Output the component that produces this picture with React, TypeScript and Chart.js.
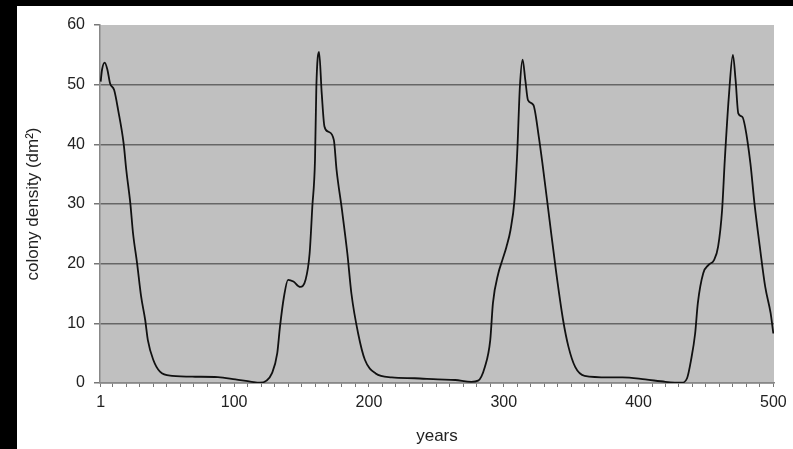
import React, { useEffect, useRef } from "react";
import { Chart, registerables } from "chart.js";

Chart.register(...registerables);

const years = [
  1, 2, 4, 6, 8, 11, 14, 18, 20, 23, 25, 28, 31, 34, 36, 40, 45, 54, 71, 88,
  101, 113, 119, 124, 128, 132, 134, 137, 140, 144, 149, 153, 156, 158, 160, 161,
  163, 165, 167, 170, 174, 176, 180, 184, 187, 192, 197, 205, 217, 234, 251, 264,
  276, 281, 286, 290, 292, 296, 299, 302, 305, 308, 310, 312, 314, 316, 318, 322,
  326, 329, 334, 339, 344, 348, 353, 360, 378, 388, 405, 420, 432, 436, 439, 442,
  444, 448, 452, 456, 459, 462, 464, 467, 470, 472, 474, 477, 479, 483, 486, 490,
  494, 498, 500,
];

const density = [
  50.5, 52.5, 53.7, 52.5, 50.2, 49.1, 45.7, 40.2, 35.7, 30.1, 25.1, 20.1, 14.5, 10.6, 7.2, 3.9, 1.9, 1.2, 1.05, 1.0,
  0.6, 0.2, 0.05, 0.4, 1.6, 5, 9.4, 14.5, 17.3, 17.0, 16.1, 17.3, 21.7, 29.5, 37.4, 49.7,
  55.5, 48.5, 43, 42.1, 40.7, 35.7, 29, 21.7, 15, 8.3, 3.9, 1.6, 0.95, 0.8, 0.6, 0.5,
  0.2, 0.4, 2.7, 7.2, 13.4, 18.4, 20.6, 22.8, 25.6, 30.7, 38.5, 49.7, 54.2, 50.8, 47.4, 46.6,
  41.3, 36.3, 27.3, 18.4, 10.6, 6.1, 2.7, 1.2, 0.95, 0.95, 0.6, 0.2, 0.05, 0.8, 3.9, 8.3,
  13.4, 18.4, 19.8, 20.6, 22.8, 29, 37.4, 48, 55, 50.8, 45.2, 44.6, 43, 36.8, 30.1, 22.8,
  16.1, 11.7, 8.3,
];

const xLabelTicks = [1, 100, 200, 300, 400, 500];
const xMinorStep = 10;
const yTicks = [0, 10, 20, 30, 40, 50, 60];

const FONT = "'Liberation Sans', Arial, sans-serif";

const plotBg = {
  id: "plotBg",
  beforeDraw(chart: any) {
    const { ctx, chartArea } = chart;
    if (!chartArea) return;
    ctx.save();
    ctx.fillStyle = "#c0c0c0";
    ctx.fillRect(chartArea.left, chartArea.top, chartArea.right - chartArea.left, chartArea.bottom - chartArea.top);
    ctx.restore();
  },
};

export default function App() {
  const ref = useRef<HTMLCanvasElement | null>(null);

  useEffect(() => {
    if (!ref.current) return;
    const xTickValues: number[] = [1];
    for (let v = xMinorStep; v <= 500; v += xMinorStep) xTickValues.push(v);

    const chart = new Chart(ref.current, {
      type: "line",
      data: {
        datasets: [
          {
            data: years.map((y, i) => ({ x: y, y: density[i] })),
            borderColor: "#111",
            borderWidth: 1.8,
            pointRadius: 0,
            fill: false,
            cubicInterpolationMode: "monotone",
          },
        ],
      },
      plugins: [plotBg],
      options: {
        animation: false,
        responsive: true,
        maintainAspectRatio: false,
        layout: { padding: { top: 19, right: 19, left: 0, bottom: 0 } },
        plugins: { legend: { display: false }, tooltip: { enabled: false } },
        scales: {
          x: {
            type: "linear",
            min: 0.5,
            max: 500.5,
            afterBuildTicks: (s: any) => {
              s.ticks = xTickValues.map((v) => ({ value: v }));
            },
            afterFit: (s: any) => {
              s.height = 66;
            },
            ticks: {
              autoSkip: false,
              maxRotation: 0,
              minRotation: 0,
              padding: 6,
              color: "#222",
              font: { family: FONT, size: 16 },
              callback: (v: any) => (xLabelTicks.includes(Number(v)) ? String(v) : ""),
            },
            grid: { drawOnChartArea: false, tickLength: 4, color: "#777", lineWidth: 1 },
            border: { color: "#888", width: 1.5 },
            title: {
              display: true,
              text: "years",
              color: "#222",
              font: { family: FONT, size: 17 },
              padding: { top: 0, bottom: 2 },
            },
          },
          y: {
            min: 0,
            max: 60,
            afterBuildTicks: (s: any) => {
              s.ticks = yTicks.map((v) => ({ value: v }));
            },
            afterFit: (s: any) => {
              s.width = 83;
            },
            ticks: {
              padding: 9,
              color: "#222",
              font: { family: FONT, size: 16 },
            },
            grid: {
              tickLength: 6,
              lineWidth: 1.5,
              color: (c: any) => (c.tick && c.tick.value === 60 ? "rgba(0,0,0,0)" : "#666"),
              tickColor: "#777",
            },
            border: { color: "#888", width: 1.5 },
            title: {
              display: true,
              text: "colony density (dm²)",
              color: "#222",
              font: { family: FONT, size: 17 },
              padding: { top: 6, bottom: 0 },
            },
          },
        },
      },
    } as any);
    return () => chart.destroy();
  }, []);

  return (
    <div style={{ position: "fixed", left: 0, top: 0, width: 793, height: 449, background: "#000" }}>
      <div style={{ position: "absolute", left: 17, top: 6, width: 776, height: 443, background: "#fff" }}>
        <canvas ref={ref} />
      </div>
    </div>
  );
}
